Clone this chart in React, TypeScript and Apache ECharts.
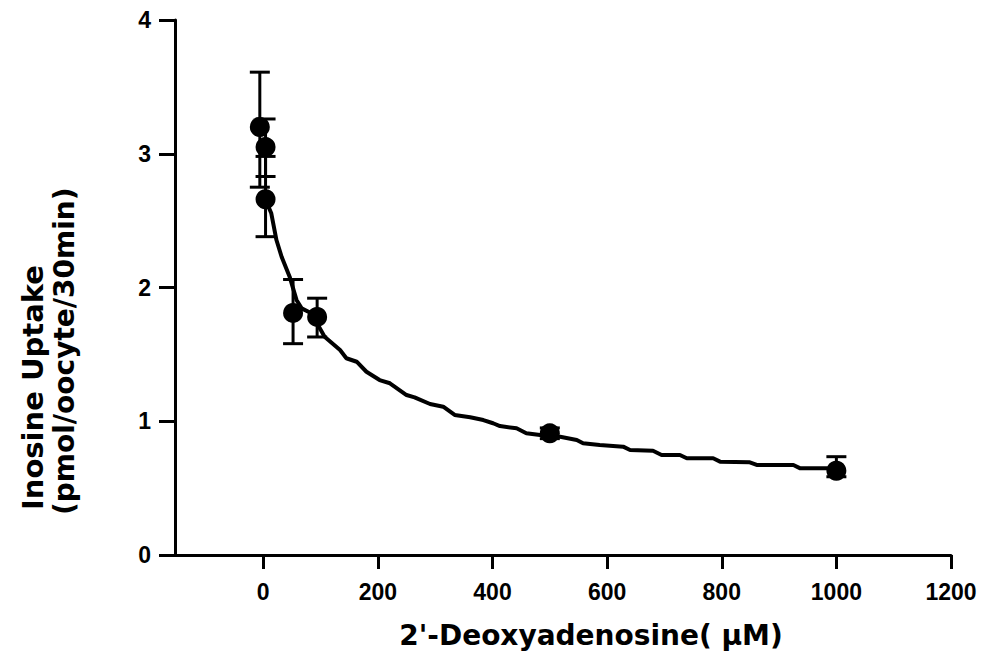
import React, { useEffect, useRef } from "react";
import * as echarts from "echarts";

// Measured points (mean ± error)
const pointX = [-6, 4, 4, 52, 94, 500, 1000];
const pointY = [3.2, 3.05, 2.66, 1.81, 1.78, 0.91, 0.63];
const errLow = [2.75, 2.83, 2.38, 1.58, 1.63, 0.87, 0.585];
const errHigh = [3.61, 3.26, 2.98, 2.06, 1.92, 0.95, 0.735];

// Fitted curve
const curveX = [4, 14, 23, 32, 46, 58, 67, 84, 107, 134, 145, 163, 180, 203, 221, 250, 264, 291, 314, 334, 361, 384, 401, 413, 442, 459, 483, 518, 547, 558, 587, 628, 640, 680, 695, 727, 739, 785, 797, 849, 861, 925, 937, 983, 1000];
const curveY = [2.654, 2.555, 2.355, 2.23, 2.081, 1.907, 1.844, 1.807, 1.632, 1.533, 1.471, 1.445, 1.37, 1.308, 1.284, 1.196, 1.179, 1.129, 1.109, 1.047, 1.03, 1.009, 0.985, 0.964, 0.947, 0.91, 0.897, 0.884, 0.86, 0.835, 0.822, 0.81, 0.785, 0.78, 0.748, 0.748, 0.723, 0.723, 0.698, 0.693, 0.673, 0.673, 0.648, 0.648, 0.636];

const xTicks = [0, 200, 400, 600, 800, 1000, 1200];
const yTicks = [0, 1, 2, 3, 4];

const xTitle = "2'-Deoxyadenosine( \u03bcM)";
const yTitle1 = "Inosine Uptake";
const yTitle2 = "(pmol/oocyte/30min)";

const tickFont = "'Liberation Sans Narrow', 'Liberation Sans', Arial, sans-serif";
const titleFont = "'DejaVu Sans', sans-serif";

export default function App() {
  const ref = useRef<HTMLDivElement>(null);
  useEffect(() => {
    if (!ref.current) return;
    const chart = echarts.init(ref.current, undefined, { renderer: "svg" });
    const option: any = {
      animation: false,
      backgroundColor: "#fff",
      grid: { left: 175, right: 32, top: 20, bottom: 105, containLabel: false },
      xAxis: {
        type: "value",
        min: -154,
        max: 1200,
        axisLine: { show: true, onZero: false, lineStyle: { color: "#000", width: 3 } },
        axisTick: { show: true, length: 14, lineStyle: { color: "#000", width: 3 }, customValues: xTicks },
        axisLabel: {
          customValues: xTicks,
          color: "#000",
          fontWeight: "bold",
          fontSize: 23,
          fontFamily: tickFont,
          margin: 25,
          formatter: (v: number) => String(v),
        },
        splitLine: { show: false },
      },
      yAxis: {
        type: "value",
        min: 0,
        max: 4,
        interval: 1,
        axisLine: { show: true, onZero: false, lineStyle: { color: "#000", width: 3 } },
        axisTick: { show: true, length: 16, lineStyle: { color: "#000", width: 3 } },
        axisLabel: {
          color: "#000",
          fontWeight: "bold",
          fontSize: 23,
          fontFamily: tickFont,
          margin: 24,
          formatter: (v: number) => (yTicks.includes(v) ? String(v) : ""),
        },
        splitLine: { show: false },
      },
      graphic: [
        {
          type: "text",
          x: 33,
          y: 510,
          rotation: Math.PI / 2,
          style: {
            text: yTitle1,
            font: `bold 29px ${titleFont}`,
            textAlign: "left",
            textVerticalAlign: "middle",
            fill: "#000",
          },
        },
        {
          type: "text",
          x: 64,
          y: 515,
          rotation: Math.PI / 2,
          style: {
            text: yTitle2,
            font: `bold 28px ${titleFont}`,
            textAlign: "left",
            textVerticalAlign: "middle",
            fill: "#000",
          },
        },
        {
          type: "text",
          x: 591,
          y: 635,
          style: {
            text: xTitle,
            font: `bold 28px ${titleFont}`,
            textAlign: "center",
            textVerticalAlign: "middle",
            fill: "#000",
          },
        },
      ],
      series: [
        {
          type: "line",
          data: curveX.map((x, i) => [x, curveY[i]]),
          showSymbol: false,
          smooth: false,
          lineStyle: { color: "#000", width: 4 },
          z: 2,
        },
        {
          type: "custom",
          data: pointX.map((x, i) => [x, errLow[i], errHigh[i]]),
          renderItem: (params: any, api: any) => {
            const x = api.value(0);
            const lo = api.coord([x, api.value(1)]);
            const hi = api.coord([x, api.value(2)]);
            const hw = 10;
            const style = { stroke: "#000", lineWidth: 3 };
            return {
              type: "group",
              children: [
                { type: "line", shape: { x1: lo[0], y1: lo[1], x2: hi[0], y2: hi[1] }, style },
                { type: "line", shape: { x1: lo[0] - hw, y1: lo[1], x2: lo[0] + hw, y2: lo[1] }, style },
                { type: "line", shape: { x1: hi[0] - hw, y1: hi[1], x2: hi[0] + hw, y2: hi[1] }, style },
              ],
            };
          },
          z: 3,
        },
        {
          type: "scatter",
          data: pointX.map((x, i) => [x, pointY[i]]),
          symbol: "circle",
          symbolSize: 20,
          itemStyle: { color: "#000", opacity: 1 },
          z: 4,
        },
      ],
    };
    chart.setOption(option);
    return () => chart.dispose();
  }, []);
  return <div ref={ref} style={{ width: 983, height: 660, position: "absolute", left: 0, top: 0 }} />;
}
